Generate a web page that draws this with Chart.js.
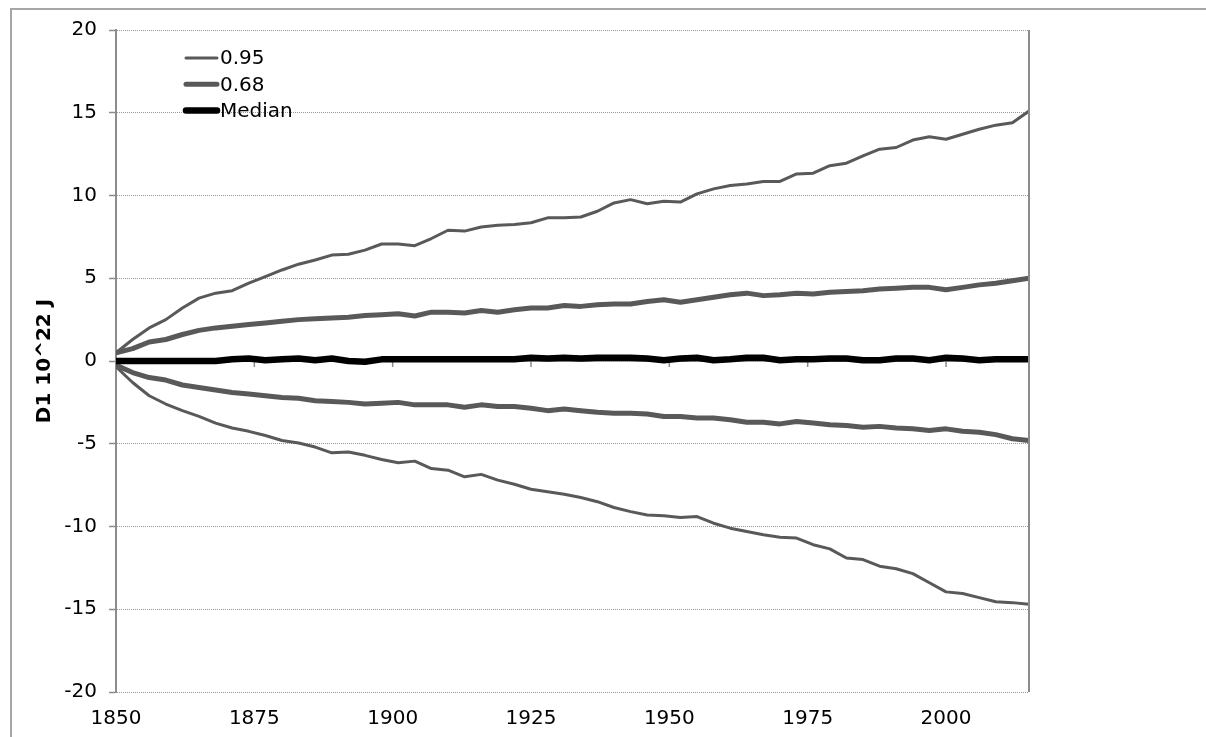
<!DOCTYPE html>
<html>
<head>
<meta charset="utf-8">
<script src="https://cdn.jsdelivr.net/npm/chart.js@4/dist/chart.umd.min.js"></script>
<style>
  body { margin: 0; background: #fff; }
  #frame {
    position: absolute; left: 10px; top: 8px; width: 1400px; height: 900px;
    border-left: 2px solid #a6a6a6; border-top: 2px solid #a6a6a6;
  }
  #chart { position: absolute; left: 0; top: 0; }
</style>
</head>
<body>
<div id="frame"></div>
<canvas id="chart" width="1206" height="737"></canvas>
<script>
// 年份（每3年一个点）
const years = [
  1850, 1853, 1856, 1859, 1862, 1865, 1868, 1871,
  1874, 1877, 1880, 1883, 1886, 1889, 1892, 1895,
  1898, 1901, 1904, 1907, 1910, 1913, 1916, 1919,
  1922, 1925, 1928, 1931, 1934, 1937, 1940, 1943,
  1946, 1949, 1952, 1955, 1958, 1961, 1964, 1967,
  1970, 1973, 1976, 1979, 1982, 1985, 1988, 1991,
  1994, 1997, 2000, 2003, 2006, 2009, 2012, 2015
];

const upper95 = [
  0.5, 1.3, 2.0, 2.5, 3.2, 3.8, 4.1, 4.25,
  4.7, 5.1, 5.5, 5.85, 6.1, 6.4, 6.45, 6.7,
  7.07, 7.07, 6.97, 7.4, 7.9, 7.85, 8.1, 8.2,
  8.25, 8.35, 8.65, 8.65, 8.7, 9.05, 9.55, 9.75,
  9.5, 9.65, 9.6, 10.1, 10.4, 10.6, 10.7, 10.85,
  10.85, 11.3, 11.35, 11.8, 11.95, 12.4, 12.8, 12.9,
  13.35, 13.55, 13.4, 13.7, 14.0, 14.25, 14.4, 15.1
];

const upper68 = [
  0.5, 0.75, 1.15, 1.3, 1.6, 1.85, 2.0, 2.1,
  2.2, 2.3, 2.4, 2.5, 2.55, 2.6, 2.65, 2.75,
  2.8, 2.85, 2.72, 2.95, 2.95, 2.9, 3.05, 2.95,
  3.1, 3.2, 3.2, 3.35, 3.3, 3.4, 3.45, 3.45,
  3.6, 3.7, 3.55, 3.7, 3.85, 4.0, 4.1, 3.95,
  4.0, 4.1, 4.05, 4.15, 4.2, 4.25, 4.35, 4.4,
  4.45, 4.45, 4.3, 4.45, 4.6, 4.7, 4.85, 5.0
];

const median = [
  0, 0, 0, 0, 0, 0, 0, 0.1,
  0.15, 0.05, 0.1, 0.15, 0.05, 0.15, 0, -0.05,
  0.1, 0.1, 0.1, 0.1, 0.1, 0.1, 0.1, 0.1,
  0.1, 0.2, 0.15, 0.2, 0.15, 0.2, 0.2, 0.2,
  0.15, 0.05, 0.15, 0.2, 0.05, 0.1, 0.2, 0.2,
  0.05, 0.1, 0.1, 0.15, 0.15, 0.05, 0.05, 0.15,
  0.15, 0.05, 0.2, 0.15, 0.05, 0.1, 0.1, 0.1
];

const lower68 = [
  -0.25, -0.7, -1.0, -1.15, -1.45, -1.6, -1.75, -1.9,
  -2.0, -2.1, -2.2, -2.25, -2.4, -2.45, -2.5, -2.6,
  -2.55, -2.5, -2.65, -2.65, -2.65, -2.8, -2.65, -2.75,
  -2.75, -2.85, -3.0, -2.9, -3.0, -3.1, -3.15, -3.15,
  -3.2, -3.35, -3.35, -3.45, -3.45, -3.55, -3.7, -3.7,
  -3.8, -3.65, -3.75, -3.85, -3.9, -4.0, -3.95, -4.05,
  -4.1, -4.2, -4.1, -4.25, -4.3, -4.45, -4.7, -4.8
];

const lower95 = [
  -0.35, -1.3, -2.1, -2.6, -3.0, -3.35, -3.75, -4.05,
  -4.25, -4.5, -4.8, -4.95, -5.2, -5.55, -5.5, -5.7,
  -5.95, -6.15, -6.05, -6.5, -6.6, -7.0, -6.85, -7.2,
  -7.45, -7.75, -7.9, -8.05, -8.25, -8.5, -8.85, -9.1,
  -9.3, -9.35, -9.45, -9.4, -9.8, -10.1, -10.3, -10.5,
  -10.65, -10.7, -11.1, -11.35, -11.9, -12.0, -12.4, -12.55,
  -12.85, -13.4, -13.95, -14.05, -14.3, -14.55, -14.6, -14.7
];

const legendLabels = ["0.95", "0.68", "Median"];
const xTicks = [1850, 1875, 1900, 1925, 1950, 1975, 2000];
const yTitle = "D1 10^22 J";

const FONT = "'DejaVu Sans', Verdana, sans-serif";
const GREY = "#595959";
const AXIS = "#8c8c8c";

function toPoints(values) {
  return values.map((v, i) => ({ x: years[i], y: v }));
}

function lineSet(label, values, color, width) {
  return {
    label: label,
    data: toPoints(values),
    borderColor: color,
    backgroundColor: color,
    borderWidth: width,
    pointRadius: 0,
    tension: 0,
    borderJoinStyle: "round",
    borderCapStyle: "round",
    fill: false
  };
}

// 0 处的横轴和刻度线
const zeroAxis = {
  id: "zeroAxis",
  beforeDatasetsDraw(chart) {
    const { ctx, chartArea, scales } = chart;
    const y0 = scales.y.getPixelForValue(0);
    ctx.save();
    ctx.strokeStyle = AXIS;
    ctx.lineWidth = 1.5;
    ctx.beginPath();
    ctx.moveTo(chartArea.left, y0);
    ctx.lineTo(chartArea.right, y0);
    xTicks.forEach(t => {
      const x = scales.x.getPixelForValue(t);
      ctx.moveTo(x, y0);
      ctx.lineTo(x, y0 + 6);
    });
    ctx.stroke();
    ctx.restore();
  },
  afterDraw(chart) {
    // 右边框
    const { ctx, chartArea } = chart;
    ctx.save();
    ctx.strokeStyle = AXIS;
    ctx.lineWidth = 2;
    ctx.beginPath();
    ctx.moveTo(chartArea.right, chartArea.top);
    ctx.lineTo(chartArea.right, chartArea.bottom);
    ctx.stroke();
    ctx.restore();
  }
};

// 图内图例（只显示上面三条）
const innerLegend = {
  id: "innerLegend",
  afterDraw(chart) {
    const { ctx, chartArea } = chart;
    const x0 = chartArea.left + 68;
    const y0 = chartArea.top + 28;
    ctx.save();
    ctx.font = "20px " + FONT;
    ctx.textBaseline = "middle";
    ctx.textAlign = "left";
    legendLabels.forEach((label, i) => {
      const ds = chart.data.datasets[i];
      const y = y0 + i * 26.3;
      ctx.strokeStyle = ds.borderColor;
      ctx.lineWidth = ds.borderWidth;
      ctx.lineCap = "round";
      ctx.beginPath();
      ctx.moveTo(x0 + 2, y);
      ctx.lineTo(x0 + 33, y);
      ctx.stroke();
      ctx.fillStyle = "#000";
      ctx.fillText(label, x0 + 36, y + 1);
    });
    ctx.restore();
  }
};

function initializeChart() {
  const ctx = document.getElementById("chart").getContext("2d");
  new Chart(ctx, {
    type: "line",
    data: {
      datasets: [
        lineSet(legendLabels[0], upper95, GREY, 3),
        lineSet(legendLabels[1], upper68, GREY, 5),
        lineSet(legendLabels[2], median, "#000", 6.5),
        lineSet(legendLabels[1], lower68, GREY, 5),
        lineSet(legendLabels[0], lower95, GREY, 3)
      ]
    },
    options: {
      responsive: false,
      animation: false,
      layout: { padding: { left: 0, top: 30, right: 177, bottom: 0 } },
      plugins: {
        legend: { display: false },
        tooltip: { enabled: false }
      },
      scales: {
        x: {
          type: "linear",
          min: 1850,
          max: 2015,
          afterBuildTicks: scale => { scale.ticks = xTicks.map(v => ({ value: v })); },
          afterFit: scale => { scale.height = 45; },
          grid: { display: false, drawTicks: false },
          border: { display: false },
          ticks: {
            padding: 15,
            maxRotation: 0,
            color: "#000",
            font: { family: FONT, size: 20 },
            callback: v => String(v)
          }
        },
        y: {
          min: -20,
          max: 20,
          afterFit: scale => { scale.width = 116; },
          ticks: {
            stepSize: 5,
            padding: 12,
            color: "#000",
            font: { family: FONT, size: 20 }
          },
          grid: {
            color: "#999999",
            lineWidth: 1,
            tickLength: 7,
            tickColor: AXIS,
            tickWidth: 1.5,
            tickBorderDash: []
          },
          border: { display: true, color: AXIS, width: 2, dash: [1, 1] },
          title: {
            display: true,
            text: yTitle,
            color: "#000",
            padding: { top: 33, bottom: 0 },
            font: { family: FONT, size: 20, weight: "bold" }
          }
        }
      }
    },
    plugins: [zeroAxis, innerLegend]
  });
}

document.addEventListener("DOMContentLoaded", initializeChart);
</script>
</body>
</html>
